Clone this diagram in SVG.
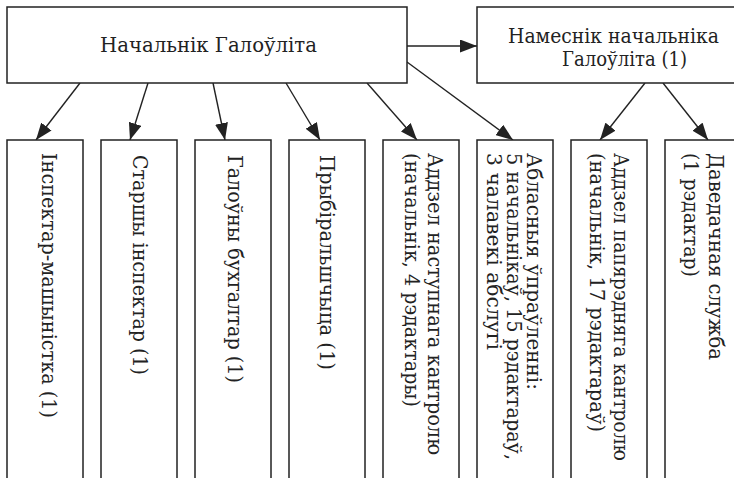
<svg xmlns="http://www.w3.org/2000/svg" width="734" height="478" viewBox="0 0 734 478">
<style>
.box{fill:#fff;stroke:#222;stroke-width:1.5}
.ln{stroke:#222;stroke-width:1.4;fill:none}
text{font-family:"DejaVu Serif","Liberation Serif",serif;font-size:20px;fill:#222}
</style>
<defs>
<marker id="ah" markerUnits="userSpaceOnUse" markerWidth="17" markerHeight="13" refX="17" refY="6.5" orient="auto">
<path d="M0,0 L17,6.5 L0,13 z" fill="#222"/>
</marker>
</defs>
<rect width="734" height="478" fill="#fff"/>
<g id="connectors">
<line class="ln" x1="407" y1="46" x2="477" y2="46" marker-end="url(#ah)"/>
<line class="ln" x1="80" y1="83" x2="36" y2="140" marker-end="url(#ah)"/>
<line class="ln" x1="148" y1="83" x2="130" y2="140" marker-end="url(#ah)"/>
<line class="ln" x1="213" y1="83" x2="225" y2="140" marker-end="url(#ah)"/>
<line class="ln" x1="286" y1="83" x2="320" y2="140" marker-end="url(#ah)"/>
<line class="ln" x1="367" y1="83" x2="417" y2="140" marker-end="url(#ah)"/>
<line class="ln" x1="407" y1="62" x2="513" y2="140" marker-end="url(#ah)"/>
<line class="ln" x1="645" y1="83" x2="600" y2="140" marker-end="url(#ah)"/>
<line class="ln" x1="663" y1="83" x2="708" y2="140" marker-end="url(#ah)"/>
</g>
<g id="chief">
<rect class="box" x="7" y="7" width="400" height="76"/>
<text x="100" y="52" textLength="217" lengthAdjust="spacingAndGlyphs">Начальнік Галоўліта</text>
</g>
<g id="deputy">
<rect class="box" x="477" y="7" width="280" height="76"/>
<text x="508" y="43" textLength="211" lengthAdjust="spacingAndGlyphs">Намеснік начальніка</text>
<text x="562" y="66" textLength="125" lengthAdjust="spacingAndGlyphs">Галоўліта (1)</text>
</g>
<g id="n1">
<rect class="box" x="7" y="140" width="76" height="360"/>
<text transform="translate(42,153) rotate(90)" textLength="265" lengthAdjust="spacingAndGlyphs">Інспектар-машыністка (1)</text>
</g>
<g id="n2">
<rect class="box" x="101" y="140" width="76" height="360"/>
<text transform="translate(133,155) rotate(90)" textLength="220" lengthAdjust="spacingAndGlyphs">Старшы інспектар (1)</text>
</g>
<g id="n3">
<rect class="box" x="195" y="140" width="76" height="360"/>
<text transform="translate(228,155) rotate(90)" textLength="228" lengthAdjust="spacingAndGlyphs">Галоўны бухгалтар (1)</text>
</g>
<g id="n4">
<rect class="box" x="289" y="140" width="76" height="360"/>
<text transform="translate(320,155) rotate(90)" textLength="215" lengthAdjust="spacingAndGlyphs">Прыбіральшчыца (1)</text>
</g>
<g id="n5">
<rect class="box" x="383" y="140" width="76" height="360"/>
<text transform="translate(428,153) rotate(90)" textLength="302" lengthAdjust="spacingAndGlyphs">Аддзел наступнага кантролю</text>
<text transform="translate(405,153) rotate(90)" textLength="254" lengthAdjust="spacingAndGlyphs">(начальнік, 4 рэдактары)</text>
</g>
<g id="n6">
<rect class="box" x="477" y="140" width="76" height="360"/>
<text transform="translate(527,153) rotate(90)" textLength="237" lengthAdjust="spacingAndGlyphs">Абласныя ўпраўленні:</text>
<text transform="translate(507,153) rotate(90)" textLength="307" lengthAdjust="spacingAndGlyphs">5 начальнікаў, 15 рэдактараў,</text>
<text transform="translate(487,153) rotate(90)" textLength="197" lengthAdjust="spacingAndGlyphs">3 чалавекі абслугі</text>
</g>
<g id="n7">
<rect class="box" x="571" y="140" width="76" height="360"/>
<text transform="translate(614,153) rotate(90)" textLength="308" lengthAdjust="spacingAndGlyphs">Аддзел папярэдняга кантролю</text>
<text transform="translate(590,153) rotate(90)" textLength="279" lengthAdjust="spacingAndGlyphs">(начальнік, 17 рэдактараў)</text>
</g>
<g id="n8">
<rect class="box" x="665" y="140" width="76" height="360"/>
<text transform="translate(709,153) rotate(90)" textLength="207" lengthAdjust="spacingAndGlyphs">Даведачная служба</text>
<text transform="translate(684,153) rotate(90)" textLength="124" lengthAdjust="spacingAndGlyphs">(1 рэдактар)</text>
</g>
</svg>
